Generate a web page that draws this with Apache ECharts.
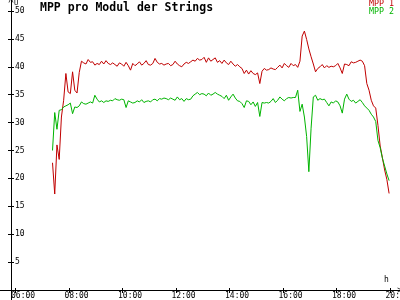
<!DOCTYPE html>
<html>
<head>
<meta charset="utf-8">
<script src="https://cdn.jsdelivr.net/npm/echarts@6/dist/echarts.min.js"></script>
<style>html,body{margin:0;padding:0;background:#fff;}#c{width:400px;height:300px;}</style>
</head>
<body>
<div id="c"></div>
<script>
const titleText = 'MPP pro Modul der Strings';
const seriesNames = ['MPP 1', 'MPP 2'];
const seriesColors = ['#c00000', '#00b400'];
const xTickHours = [6, 8, 10, 12, 14, 16, 18, 20];
const yTickValues = [0, 5, 10, 15, 20, 25, 30, 35, 40, 45, 50];
const yLabelValues = [5, 10, 15, 20, 25, 30, 35, 40, 45, 50];
const yUnit = 'U';
const xUnit = 'h';

const times = [
'07:23','07:28','07:33','07:38','07:43','07:48','07:53','07:58',
'08:03','08:08','08:13','08:18','08:23','08:28','08:33','08:38','08:43','08:48','08:53','08:58',
'09:03','09:08','09:13','09:18','09:23','09:28','09:33','09:38','09:43','09:48','09:53','09:58',
'10:03','10:08','10:13','10:18','10:23','10:28','10:33','10:38','10:43','10:48','10:53','10:58',
'11:03','11:08','11:13','11:18','11:23','11:28','11:33','11:38','11:43','11:48','11:53','11:58',
'12:03','12:08','12:13','12:18','12:23','12:28','12:33','12:38','12:43','12:48','12:53','12:58',
'13:03','13:08','13:13','13:18','13:23','13:28','13:33','13:38','13:43','13:48','13:53','13:58',
'14:03','14:08','14:13','14:18','14:23','14:28','14:33','14:38','14:43','14:48','14:53','14:58',
'15:03','15:08','15:13','15:18','15:23','15:28','15:33','15:38','15:43','15:48','15:53','15:58',
'16:03','16:08','16:13','16:18','16:23','16:28','16:33','16:38','16:43','16:48','16:53','16:58',
'17:03','17:08','17:13','17:18','17:23','17:28','17:33','17:38','17:43','17:48','17:53','17:58',
'18:03','18:08','18:13','18:18','18:23','18:28','18:33','18:38','18:43','18:48','18:53','18:58',
'19:03','19:08','19:13','19:18','19:23','19:28','19:33','19:38','19:43','19:48','19:53','19:58'
];

const mpp1 = [
22.8,17.2,26.0,23.4,31.0,34.0,38.8,35.5,35.2,39.1,
35.8,35.3,39.0,41.0,40.7,40.5,41.3,40.8,40.9,40.3,
40.6,40.4,41.0,40.5,41.1,40.6,40.4,40.7,40.4,40.1,
40.7,40.5,40.1,40.8,40.2,39.4,40.6,40.2,40.5,40.9,
40.3,40.6,41.1,40.4,40.3,40.6,41.5,40.8,40.5,40.6,
40.3,40.5,40.6,40.2,40.4,41.0,40.5,40.2,40.0,40.5,
40.8,40.6,40.9,41.2,41.0,41.5,41.2,41.3,41.7,40.8,
41.6,41.0,41.3,41.6,40.8,41.1,40.6,41.2,40.7,40.4,
41.0,40.5,40.1,40.4,40.0,39.7,38.8,39.4,38.7,39.3,
38.8,38.6,38.9,37.0,39.2,39.7,39.4,39.5,39.8,39.6,
39.5,39.9,40.3,39.8,40.6,40.2,39.9,40.6,40.2,40.4,
39.9,41.0,45.5,46.4,44.9,43.2,41.8,40.5,39.1,39.7,
40.0,40.4,39.8,40.2,39.9,40.1,40.0,40.2,40.6,39.8,
38.8,40.5,40.4,40.2,40.9,40.7,40.8,41.0,41.2,41.0,
40.2,37.0,35.8,34.0,33.0,32.6,29.5,25.8,23.7,21.5,
19.8,17.3
];

const mpp2 = [
25.0,31.8,28.8,32.2,32.3,32.8,33.0,33.2,33.5,31.6,
32.8,32.7,33.0,33.7,33.4,33.3,33.5,33.7,33.5,34.9,
34.2,33.7,33.9,33.6,33.9,33.8,34.0,33.9,34.3,34.1,
34.0,34.2,34.1,32.7,33.9,33.7,33.5,33.6,33.9,33.7,
34.1,33.6,33.8,33.9,33.7,34.1,34.2,33.9,34.3,34.2,
34.4,34.3,34.1,34.4,34.2,34.0,34.6,34.1,34.3,33.8,
34.3,34.1,34.2,34.8,35.1,35.4,35.0,35.2,35.1,34.8,
35.3,34.9,35.1,35.4,35.1,34.9,34.7,34.3,34.9,34.0,
34.6,35.1,34.4,33.9,33.8,33.4,32.7,33.9,33.8,33.2,
33.7,32.9,33.6,31.1,33.6,33.5,33.6,33.5,33.8,34.3,
33.6,34.0,34.6,34.2,33.9,34.3,34.5,34.4,34.5,34.5,
35.8,32.0,33.3,31.0,27.5,21.2,29.0,34.6,34.9,34.0,
34.3,34.1,34.2,33.6,33.0,33.7,33.5,33.9,33.7,33.0,
31.7,34.2,35.1,34.2,33.8,34.0,33.5,33.8,34.1,33.6,
33.0,32.6,32.2,31.5,31.0,30.2,26.8,25.5,23.6,22.2,
20.8,19.6
];

function toHours(s) { const p = s.split(':'); return +p[0] + (+p[1]) / 60; }
const pts1 = times.map((t, i) => [toHours(t), mpp1[i]]);
const pts2 = times.map((t, i) => [toHours(t), mpp2[i]]);

const FONT = 'DejaVu Sans Mono';
const X_MIN = 5.4206, X_MAX = 20.374;
const LABEL_SHIFT = 0.168;
const Y_MIN = -1.792, Y_MAX = 51.97;
const chevron = 'path://M0,10L5,0L10,10L8.6,10L5,2.8L1.4,10Z';
const hiddenLine = {show: false, onZero: false};

const chart = echarts.init(document.getElementById('c'), null, {renderer: 'canvas'});
chart.setOption({
  animation: false,
  backgroundColor: '#ffffff',
  title: {
    text: titleText, left: 40, top: 2, padding: 0,
    textStyle: {fontFamily: FONT, fontWeight: 'bold', fontSize: 11.5, color: '#000'}
  },
  legend: {
    orient: 'vertical', right: 6, top: 0, padding: 0, itemGap: 0,
    itemWidth: 0, itemHeight: 8, selectedMode: false,
    textStyle: {fontFamily: FONT, fontSize: 8.3, lineHeight: 8, padding: 0},
    data: seriesNames.map((n, i) => ({name: n, icon: 'rect', itemStyle: {opacity: 0}, textStyle: {color: seriesColors[i]}}))
  },
  grid: {left: 0, right: 0, top: 0, bottom: 0, outerBoundsMode: 'none'},
  xAxis: [
    {
      type: 'value', min: X_MIN, max: X_MAX, position: 'bottom',
      axisLine: {onZero: true, onZeroAxisIndex: 0, lineStyle: {color: '#000', width: 1}, symbol: ['none', chevron], symbolSize: [7, 5]},
      axisTick: {show: true, customValues: xTickHours, length: 3, lineStyle: {color: '#000'}},
      axisLabel: {show: false}, splitLine: {show: false}
    },
    {
      type: 'value', min: X_MIN + LABEL_SHIFT, max: X_MAX + LABEL_SHIFT, position: 'bottom', offset: -10,
      axisLine: hiddenLine,
      axisTick: {show: false},
      axisLabel: {show: true, customValues: xTickHours, align: 'left', margin: 2,
        fontFamily: FONT, fontSize: 8, color: '#000',
        formatter: v => (v < 10 ? '0' : '') + v + ':00'},
      splitLine: {show: false}
    },
    {
      type: 'value', min: X_MIN, max: X_MAX, position: 'bottom', offset: -10,
      axisLine: hiddenLine,
      axisTick: {show: true, inside: true, customValues: xTickHours, length: 2, lineStyle: {color: '#000'}},
      axisLabel: {show: false}, splitLine: {show: false}
    }
  ],
  yAxis: [
    {
      type: 'value', min: Y_MIN, max: Y_MAX, position: 'left', offset: -11,
      axisLine: {show: true, onZero: false, lineStyle: {color: '#000', width: 1}, symbol: ['none', chevron], symbolSize: [7, 5]},
      axisTick: {show: true, customValues: yTickValues, length: 3, lineStyle: {color: '#000'}},
      axisLabel: {show: true, inside: true, customValues: yLabelValues, margin: 4,
        fontFamily: FONT, fontSize: 8, color: '#000'},
      splitLine: {show: false}
    },
    {
      type: 'value', min: Y_MIN, max: Y_MAX, position: 'left', offset: -11,
      axisLine: {show: false, onZero: false},
      axisTick: {show: true, inside: true, customValues: yTickValues, length: 3, lineStyle: {color: '#000'}},
      axisLabel: {show: false}, splitLine: {show: false}
    }
  ],
  graphic: [
    {type: 'text', left: 14, top: 0, style: {text: yUnit, fontFamily: FONT, fontSize: 7, fill: '#000'}},
    {type: 'text', left: 384, top: 276, style: {text: xUnit, fontFamily: FONT, fontSize: 8, fill: '#000'}}
  ],
  series: [
    {name: seriesNames[0], type: 'line', xAxisIndex: 0, yAxisIndex: 0, data: pts1, showSymbol: false,
     color: seriesColors[0], lineStyle: {width: 1, color: seriesColors[0]}},
    {name: seriesNames[1], type: 'line', xAxisIndex: 0, yAxisIndex: 0, data: pts2, showSymbol: false,
     color: seriesColors[1], lineStyle: {width: 1, color: seriesColors[1]}}
  ]
});
</script>
</body>
</html>
